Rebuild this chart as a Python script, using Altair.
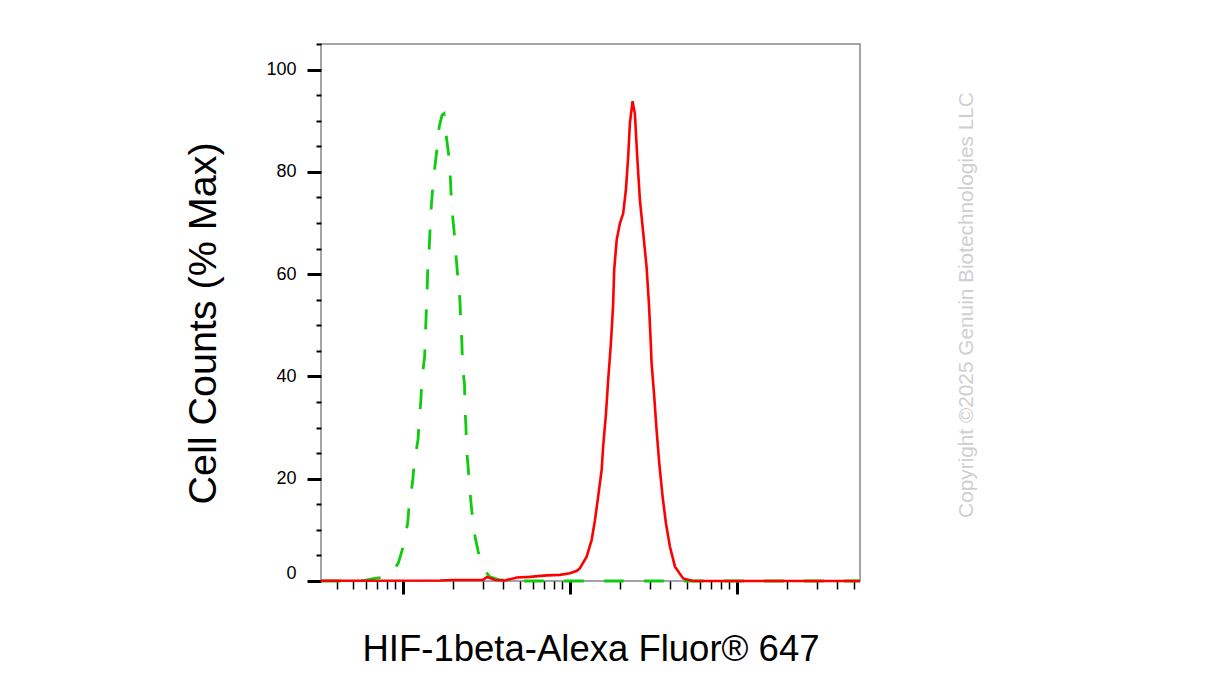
import altair as alt
import numpy as np
import pandas as pd

# log10 fluorescence intensity and % of max for the isotype control (green dashed)
green_log = [2.509, 2.683, 2.772, 2.814, 2.862, 2.910, 2.940, 2.972, 3.004, 3.028,
             3.038, 3.058, 3.068, 3.090, 3.098, 3.108, 3.114, 3.130, 3.134, 3.139,
             3.144, 3.148, 3.156, 3.162, 3.168, 3.178, 3.190, 3.208, 3.217, 3.234,
             3.246, 3.257, 3.274, 3.283, 3.289, 3.298, 3.311, 3.319, 3.331, 3.341,
             3.347, 3.353, 3.357, 3.369, 3.371, 3.377, 3.381, 3.391, 3.401, 3.413,
             3.427, 3.451, 3.473, 3.501, 3.521, 3.581, 3.701, 5.737]
green_pct = [0, 0, 0.1, 0.4, 0.65, 1.0, 1.8, 3.5, 7.0, 11.3,
             15.1, 19.4, 23.2, 27.6, 31.5, 35.7, 39.6, 43.9, 47.8, 52.0,
             55.9, 60.5, 64.1, 68.6, 72.5, 76.8, 80.7, 85.6, 88.8, 91.1,
             91.4, 87.6, 83.3, 79.4, 75.1, 71.2, 66.7, 63.1, 58.5, 54.9,
             50.4, 46.5, 42.2, 38.3, 34.1, 30.2, 25.9, 22.0, 17.5, 13.5,
             9.4, 5.7, 3.3, 1.6, 0.8, 0.2, 0, 0]

# HIF-1beta stained sample (red solid)
red_log = [2.509, 3.222, 3.299, 3.479, 3.503, 3.551, 3.611, 3.683, 3.760, 3.862,
           3.940, 4.000, 4.042, 4.060, 4.100, 4.130, 4.150, 4.169, 4.190, 4.199,
           4.216, 4.229, 4.244, 4.250, 4.259, 4.265, 4.280, 4.299, 4.319, 4.335,
           4.349, 4.359, 4.375, 4.389, 4.403, 4.419, 4.439, 4.459, 4.473, 4.483,
           4.489, 4.505, 4.519, 4.535, 4.555, 4.575, 4.599, 4.629, 4.678, 4.737,
           4.898, 5.737]
red_pct = [0.05, 0.1, 0.2, 0.2, 0.8, 0.2, 0.1, 0.7, 0.8, 1.1,
           1.2, 1.5, 2.0, 2.5, 4.75, 8.0, 11.9, 16.5, 21.7, 26.3,
           32.8, 39.3, 45.8, 49.0, 54.3, 60.8, 66.7, 69.9, 71.9, 76.4,
           83.0, 89.5, 93.8, 91.4, 83.0, 74.5, 68.0, 61.4, 54.3, 47.4,
           42.6, 36.0, 29.5, 23.0, 16.5, 11.3, 6.7, 2.8, 0.5, 0.0,
           0.0, 0.0]

y_major = [0, 20, 40, 60, 80, 100]
y_minor = [5, 10, 15, 25, 30, 35, 45, 50, 55, 65, 70, 75, 85, 90, 95, 105]
x_major = [1000, 10000, 100000]
x_minor = [400, 500, 600, 700, 800, 900,
           2000, 3000, 4000, 5000, 6000, 7000, 8000, 9000,
           20000, 30000, 40000, 50000, 60000, 70000, 80000, 90000,
           200000, 300000, 400000, 500000]

x_title = "HIF-1beta-Alexa Fluor® 647"
y_title = "Cell Counts (% Max)"
watermark = "Copyright ©2025 Genuin Biotechnologies LLC"

df_g = pd.DataFrame({"fl": 10 ** np.array(green_log), "pct": green_pct})
df_r = pd.DataFrame({"fl": 10 ** np.array(red_log), "pct": red_pct})
df_w = pd.DataFrame({"t": [watermark]})

FONT = "Liberation Sans"
xscale = alt.Scale(type="log", domain=[323, 546000], nice=False)
yscale = alt.Scale(domain=[0, 105], nice=False, zero=False)

green = alt.Chart(df_g).mark_line(
    color="#0ecc0e", strokeWidth=2.8, strokeDash=[20, 20]
).encode(
    x=alt.X("fl:Q", scale=xscale, axis=alt.Axis(
        orient="bottom", values=x_major, labels=False, tickSize=13, tickWidth=3,
        tickColor="black", domain=False, grid=False, title=x_title,
        titleFontSize=36.5, titleFont=FONT, titleFontWeight="normal",
        titleColor="black", titlePadding=36)),
    y=alt.Y("pct:Q", scale=yscale, axis=alt.Axis(
        orient="left", values=y_major, format="d", tickSize=14, tickWidth=3,
        tickColor="black", domain=False, grid=False, labelFontSize=18,
        labelFont=FONT, labelColor="black", labelPadding=11,
        labelFlush=True, labelFlushOffset=1, title=y_title,
        titleFontSize=39.5, titleFont=FONT, titleFontWeight="normal",
        titleColor="black", titlePadding=42, titleY=279)),
)

red = alt.Chart(df_r).mark_line(color="#ff0000", strokeWidth=2.6).encode(
    x=alt.X("fl:Q", scale=xscale, axis=alt.Axis(
        orient="bottom", values=x_minor, labels=False, tickSize=8, tickWidth=1.5,
        tickColor="black", domain=False, grid=False, title="")),
    y=alt.Y("pct:Q", scale=yscale, axis=alt.Axis(
        orient="left", values=y_minor, labels=False, tickSize=5, tickWidth=2,
        tickColor="black", domain=False, grid=False, title="")),
)

wm = alt.Chart(df_w).mark_text(
    angle=270, fontSize=20.8, font=FONT, color="#cfcfcf", align="center", baseline="middle"
).encode(text="t:N", x=alt.value(646), y=alt.value(261))

chart = alt.layer(green, red, wm).resolve_axis(
    x="independent", y="independent"
).properties(
    width=539, height=537,
    autosize=alt.AutoSizeParams(type="none"),
    padding={"left": 313, "top": 36, "right": 330, "bottom": 100},
).configure_view(stroke="#888888", strokeWidth=1.5)

chart.save("out.html", embed_options={"renderer": "svg", "actions": False})
